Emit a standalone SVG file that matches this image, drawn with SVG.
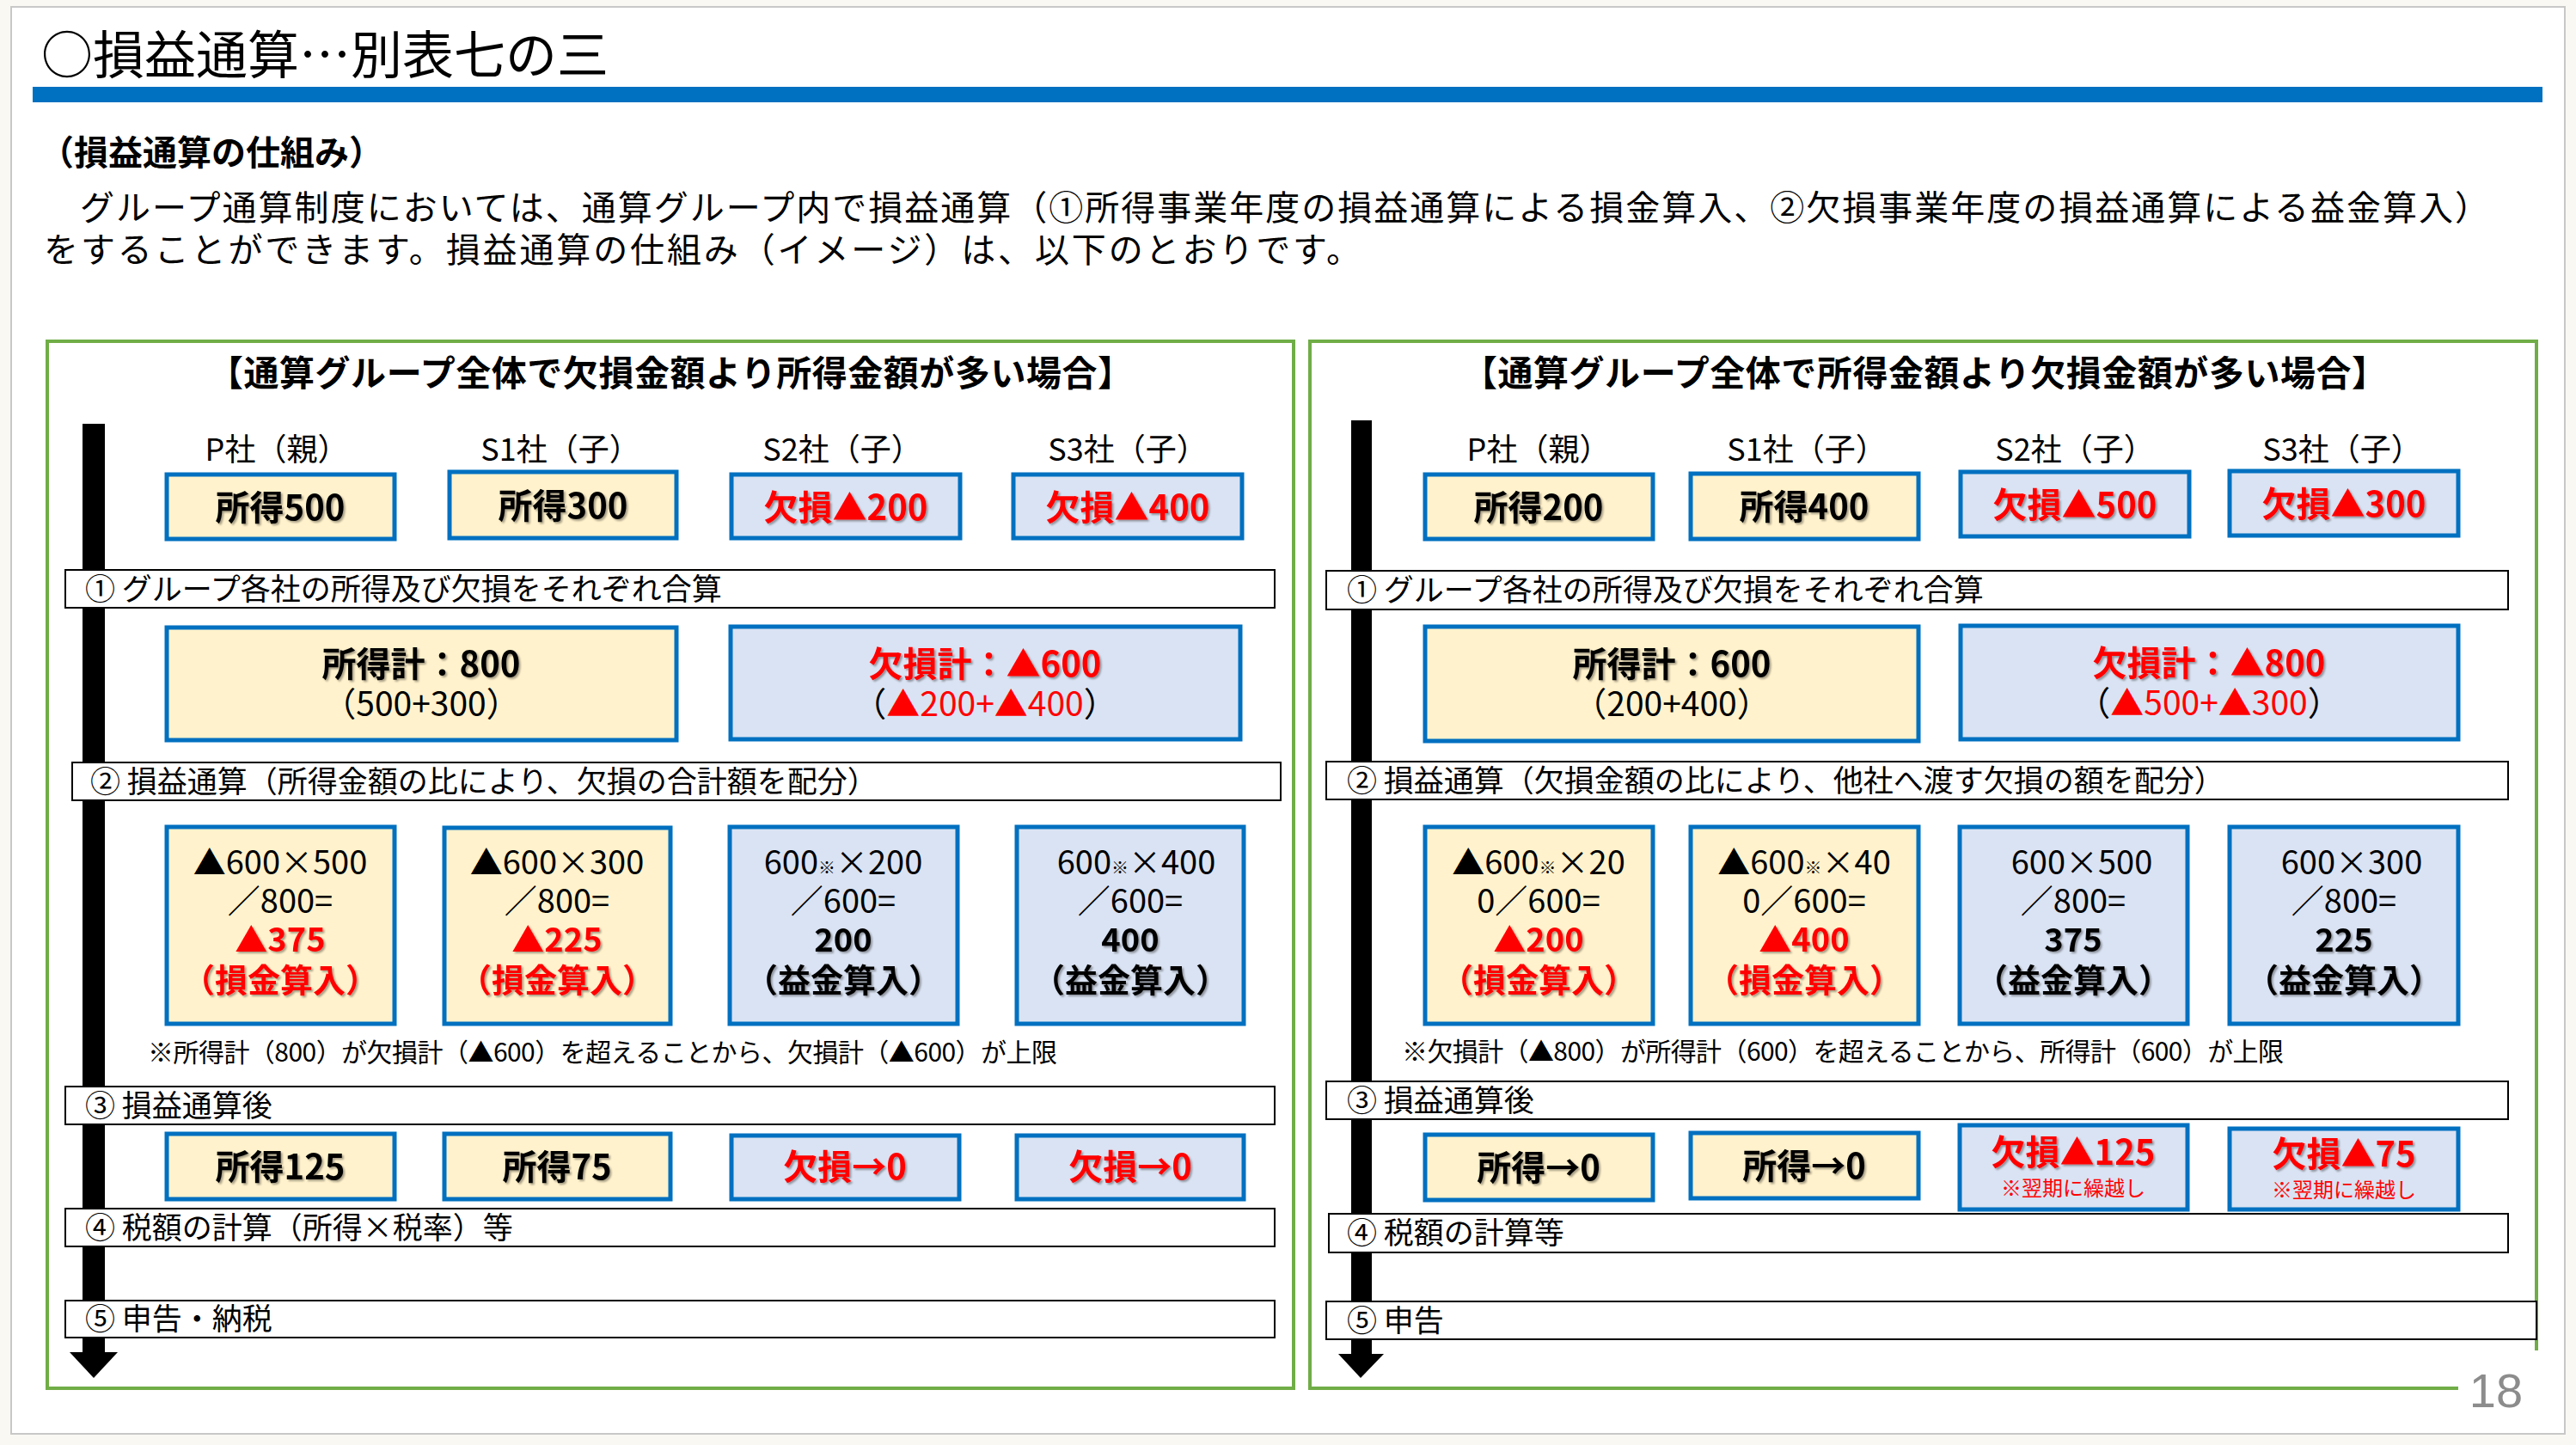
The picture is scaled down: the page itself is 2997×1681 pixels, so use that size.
<svg xmlns="http://www.w3.org/2000/svg" width="2997" height="1681" viewBox="0 0 2997 1681">
<defs>
<style>
text{font-family:"Noto Sans CJK JP","Noto Sans",sans-serif;fill:#000}
.by{fill:#fff2cc;stroke:#0070c0;stroke-width:5}
.bb{fill:#dae3f3;stroke:#0070c0;stroke-width:5}
.band{fill:#fff;stroke:#000;stroke-width:2}
.panel{fill:none;stroke:#70ad47;stroke-width:4}
.big{font-size:40px;font-weight:700;text-anchor:middle;filter:url(#sh)}
.mid{font-size:38px;text-anchor:middle}
.midb{font-size:38px;font-weight:700;text-anchor:middle;filter:url(#sh)}
.sub{font-size:39px;text-anchor:middle}
.lbl{font-size:36px;text-anchor:middle}
.bt{font-size:35px}
.hd{font-size:41px;font-weight:700;text-anchor:middle}
.fn{font-size:30px}
.red{fill:#ff0000}
.sm{font-size:20px}
</style>
<filter id="sh" x="-10%" y="-20%" width="130%" height="150%">
<feDropShadow dx="2" dy="2" stdDeviation="1" flood-color="#000" flood-opacity="0.35"/>
</filter>
</defs>
<rect x="0" y="0" width="2997" height="1681" fill="#f9f8f3"/>
<rect x="13" y="8" width="2971" height="1660" fill="#fff" stroke="#c8c8c8" stroke-width="2"/>

<g id="header">
<text x="48" y="86" font-size="60">○損益通算…別表七の三</text>
<rect x="38" y="101" width="2920" height="18" fill="#0070c0"/>
<text x="46" y="192" font-size="40" font-weight="700">（損益通算の仕組み）</text>
<text x="51" y="256" font-size="40" textLength="2845">　グループ通算制度においては、通算グループ内で損益通算（①所得事業年度の損益通算による損金算入、②欠損事業年度の損益通算による益金算入）</text>
<text x="51" y="305" font-size="40" textLength="1532">をすることができます。損益通算の仕組み（イメージ）は、以下のとおりです。</text>
</g>

<g id="left-panel">
<rect class="panel" x="55" y="397" width="1450" height="1218"/>
<text class="hd" x="780" y="449" textLength="1076">【通算グループ全体で欠損金額より所得金額が多い場合】</text>
</g>

<g id="right-panel">
<path class="panel" d="M2860,1615 H1524 V397 H2951 V1571"/>
<text class="hd" x="2239" y="449" textLength="1076">【通算グループ全体で所得金額より欠損金額が多い場合】</text>
</g>

<g id="connectors">
<rect x="96" y="493" width="26" height="1082" fill="#000"/>
<polygon points="81,1573 137,1573 109,1603" fill="#000"/>
<rect x="1572" y="489" width="24" height="1087" fill="#000"/>
<polygon points="1557,1575 1610,1575 1583,1603" fill="#000"/>
</g>

<g id="L-band1"><rect class="band" x="76" y="663" width="1407" height="44"/><text class="bt" x="99" y="698">① グループ各社の所得及び欠損をそれぞれ合算</text></g>
<g id="L-band2"><rect class="band" x="84" y="887" width="1406" height="44"/><text class="bt" x="105" y="922">② 損益通算（所得金額の比により、欠損の合計額を配分）</text></g>
<g id="L-band3"><rect class="band" x="76" y="1264" width="1407" height="44"/><text class="bt" x="99" y="1299">③ 損益通算後</text></g>
<g id="L-band4"><rect class="band" x="76" y="1406" width="1407" height="44"/><text class="bt" x="99" y="1441">④ 税額の計算（所得×税率）等</text></g>
<g id="L-band5"><rect class="band" x="76" y="1513" width="1407" height="43"/><text class="bt" x="99" y="1547">⑤ 申告・納税</text></g>

<g id="L-labels">
<text class="lbl" x="322" y="536">P社（親）</text>
<text class="lbl" x="652" y="536">S1社（子）</text>
<text class="lbl" x="980" y="536">S2社（子）</text>
<text class="lbl" x="1312" y="536">S3社（子）</text>
</g>
<g id="L-P1"><rect class="by" x="194" y="552" width="265" height="75"/><text class="big" x="326" y="605">所得500</text></g>
<g id="L-S1-1"><rect class="by" x="523" y="549" width="264" height="77"/><text class="big" x="655" y="603">所得300</text></g>
<g id="L-S2-1"><rect class="bb" x="851" y="552" width="266" height="74"/><text class="big red" x="984" y="605">欠損▲200</text></g>
<g id="L-S3-1"><rect class="bb" x="1179" y="552" width="266" height="74"/><text class="big red" x="1312" y="605">欠損▲400</text></g>

<g id="L-sum-income"><rect class="by" x="194" y="730" width="593" height="131"/>
<text class="big" x="490" y="787">所得計：800</text>
<text class="sub" x="490" y="833">（500+300）</text></g>
<g id="L-sum-loss"><rect class="bb" x="850" y="729" width="593" height="131"/>
<text class="big red" x="1146" y="787">欠損計：▲600</text>
<text class="sub" x="1146" y="833">（<tspan class="red">▲200+▲400</tspan>）</text></g>

<g id="L-P3"><rect class="by" x="194" y="962" width="265" height="229"/>
<text class="mid" x="326" y="1017">▲600×500</text>
<text class="mid" x="326" y="1062">／800=</text>
<text class="midb red" x="326" y="1107">▲375</text>
<text class="midb red" x="326" y="1154">（損金算入）</text></g>
<g id="L-S1-3"><rect class="by" x="517" y="963" width="263" height="228"/>
<text class="mid" x="648" y="1017">▲600×300</text>
<text class="mid" x="648" y="1062">／800=</text>
<text class="midb red" x="648" y="1107">▲225</text>
<text class="midb red" x="648" y="1154">（損金算入）</text></g>
<g id="L-S2-3"><rect class="bb" x="849" y="962" width="265" height="229"/>
<text class="mid" x="981" y="1017">600<tspan class="sm">※</tspan>×200</text>
<text class="mid" x="981" y="1062">／600=</text>
<text class="midb" x="981" y="1107">200</text>
<text class="midb" x="981" y="1154">（益金算入）</text></g>
<g id="L-S3-3"><rect class="bb" x="1183" y="962" width="264" height="229"/>
<text class="mid" x="1322" y="1017">600<tspan class="sm">※</tspan>×400</text>
<text class="mid" x="1315" y="1062">／600=</text>
<text class="midb" x="1315" y="1107">400</text>
<text class="midb" x="1315" y="1154">（益金算入）</text></g>
<text class="fn" x="172" y="1235" textLength="1058">※所得計（800）が欠損計（▲600）を超えることから、欠損計（▲600）が上限</text>

<g id="L-P4"><rect class="by" x="194" y="1319" width="265" height="76"/><text class="big" x="326" y="1372">所得125</text></g>
<g id="L-S1-4"><rect class="by" x="517" y="1319" width="263" height="76"/><text class="big" x="648" y="1372">所得75</text></g>
<g id="L-S2-4"><rect class="bb" x="851" y="1321" width="265" height="74"/><text class="big red" x="983" y="1372">欠損→0</text></g>
<g id="L-S3-4"><rect class="bb" x="1183" y="1321" width="264" height="74"/><text class="big red" x="1315" y="1372">欠損→0</text></g>

<g id="R-band1"><rect class="band" x="1543" y="664" width="1375" height="45"/><text class="bt" x="1567" y="699">① グループ各社の所得及び欠損をそれぞれ合算</text></g>
<g id="R-band2"><rect class="band" x="1543" y="886" width="1375" height="44"/><text class="bt" x="1567" y="921">② 損益通算（欠損金額の比により、他社へ渡す欠損の額を配分）</text></g>
<g id="R-band3"><rect class="band" x="1543" y="1258" width="1375" height="44"/><text class="bt" x="1567" y="1293">③ 損益通算後</text></g>
<g id="R-band4"><rect class="band" x="1546" y="1412" width="1372" height="45"/><text class="bt" x="1567" y="1447">④ 税額の計算等</text></g>
<g id="R-band5"><rect class="band" x="1543" y="1514" width="1408" height="44"/><text class="bt" x="1567" y="1549">⑤ 申告</text></g>

<g id="R-labels">
<text class="lbl" x="1790" y="536">P社（親）</text>
<text class="lbl" x="2102" y="536">S1社（子）</text>
<text class="lbl" x="2414" y="536">S2社（子）</text>
<text class="lbl" x="2725" y="536">S3社（子）</text>
</g>
<g id="R-P1"><rect class="by" x="1658" y="552" width="265" height="75"/><text class="big" x="1790" y="605">所得200</text></g>
<g id="R-S1-1"><rect class="by" x="1967" y="551" width="265" height="76"/><text class="big" x="2099" y="604">所得400</text></g>
<g id="R-S2-1"><rect class="bb" x="2281" y="549" width="266" height="75"/><text class="big red" x="2414" y="602">欠損▲500</text></g>
<g id="R-S3-1"><rect class="bb" x="2594" y="548" width="266" height="75"/><text class="big red" x="2727" y="601">欠損▲300</text></g>

<g id="R-sum-income"><rect class="by" x="1658" y="729" width="574" height="133"/>
<text class="big" x="1945" y="787">所得計：600</text>
<text class="sub" x="1945" y="833">（200+400）</text></g>
<g id="R-sum-loss"><rect class="bb" x="2281" y="728" width="579" height="132"/>
<text class="big red" x="2570" y="786">欠損計：▲800</text>
<text class="sub" x="2570" y="832">（<tspan class="red">▲500+▲300</tspan>）</text></g>

<g id="R-P3"><rect class="by" x="1658" y="962" width="265" height="229"/>
<text class="mid" x="1790" y="1017">▲600<tspan class="sm">※</tspan>×20</text>
<text class="mid" x="1790" y="1062">0／600=</text>
<text class="midb red" x="1790" y="1107">▲200</text>
<text class="midb red" x="1790" y="1154">（損金算入）</text></g>
<g id="R-S1-3"><rect class="by" x="1967" y="962" width="265" height="229"/>
<text class="mid" x="2099" y="1017">▲600<tspan class="sm">※</tspan>×40</text>
<text class="mid" x="2099" y="1062">0／600=</text>
<text class="midb red" x="2099" y="1107">▲400</text>
<text class="midb red" x="2099" y="1154">（損金算入）</text></g>
<g id="R-S2-3"><rect class="bb" x="2280" y="962" width="265" height="229"/>
<text class="mid" x="2422" y="1017">600×500</text>
<text class="mid" x="2412" y="1062">／800=</text>
<text class="midb" x="2412" y="1107">375</text>
<text class="midb" x="2412" y="1154">（益金算入）</text></g>
<g id="R-S3-3"><rect class="bb" x="2594" y="962" width="266" height="229"/>
<text class="mid" x="2736" y="1017">600×300</text>
<text class="mid" x="2727" y="1062">／800=</text>
<text class="midb" x="2727" y="1107">225</text>
<text class="midb" x="2727" y="1154">（益金算入）</text></g>
<text class="fn" x="1631" y="1234" textLength="1026">※欠損計（▲800）が所得計（600）を超えることから、所得計（600）が上限</text>

<g id="R-P4"><rect class="by" x="1658" y="1320" width="265" height="76"/><text class="big" x="1790" y="1373">所得→0</text></g>
<g id="R-S1-4"><rect class="by" x="1967" y="1318" width="265" height="76"/><text class="big" x="2099" y="1371">所得→0</text></g>
<g id="R-S2-4"><rect class="bb" x="2280" y="1309" width="265" height="98"/>
<text class="big red" x="2412" y="1355">欠損▲125</text>
<text class="red" x="2412" y="1391" font-size="24" text-anchor="middle">※翌期に繰越し</text></g>
<g id="R-S3-4"><rect class="bb" x="2594" y="1313" width="266" height="94"/>
<text class="big red" x="2727" y="1357">欠損▲75</text>
<text class="red" x="2727" y="1393" font-size="24" text-anchor="middle">※翌期に繰越し</text></g>

<text x="2904" y="1637" font-size="56" text-anchor="middle" style="fill:#8c8c8c;font-family:'Liberation Sans','Noto Sans',sans-serif">18</text>
</svg>
